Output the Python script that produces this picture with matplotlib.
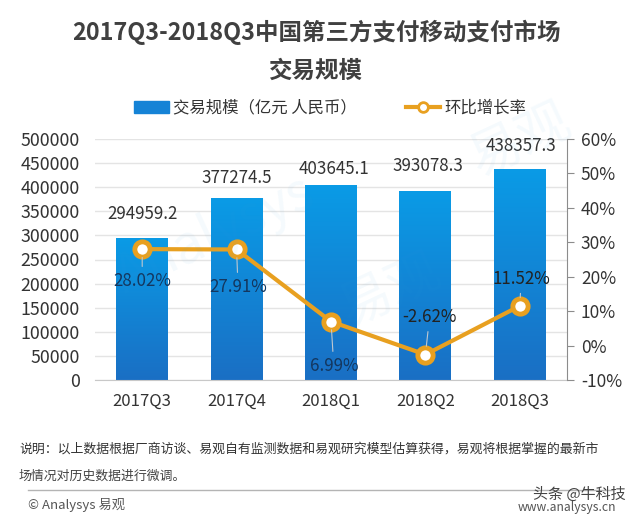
import numpy as np
import matplotlib
matplotlib.use("Agg")
import matplotlib.pyplot as plt
from matplotlib.colors import LinearSegmentedColormap
from matplotlib.lines import Line2D
from matplotlib.patches import Patch

plt.rcParams['font.family'] = ['Noto Sans CJK SC', 'DejaVu Sans']

quarters = ['2017Q3', '2017Q4', '2018Q1', '2018Q2', '2018Q3']
volume = [294959.2, 377274.5, 403645.1, 393078.3, 438357.3]
growth = [28.02, 27.91, 6.99, -2.62, 11.52]
volume_labels = ['294959.2', '377274.5', '403645.1', '393078.3', '438357.3']
growth_labels = ['28.02%', '27.91%', '6.99%', '-2.62%', '11.52%']
left_ticks = [0, 50000, 100000, 150000, 200000, 250000, 300000, 350000, 400000, 450000, 500000]
right_ticks = [-10, 0, 10, 20, 30, 40, 50, 60]

W, H = 640, 518
fig = plt.figure(figsize=(W / 100, H / 100), dpi=100, facecolor='white')
ax = fig.add_axes([95 / W, 1 - 380 / H, 472 / W, 241 / H])
ax.set_xlim(-0.5, 4.5)
ax.set_ylim(0, 500000)
ax.set_facecolor('none')

ax.set_yticks(left_ticks)
ax.grid(axis='y', color='#e4e4e4', lw=1)
ax.set_axisbelow(True)
for s in ['top', 'left', 'right']:
    ax.spines[s].set_visible(False)
ax.spines['bottom'].set_color('#c8c8c8')
ax.tick_params(axis='y', length=0, labelsize=12.8, labelcolor='#333333', pad=11)
ax.tick_params(axis='x', length=0, labelsize=12, labelcolor='#333333', pad=9)

x = np.arange(len(quarters))
bars = ax.bar(x, volume, width=0.55, color='#0f86d8', zorder=2)
ax.set_xticks(x, quarters)

cmap = LinearSegmentedColormap.from_list('b', ['#0a9be6', '#1a6fc4'])
grad = np.linspace(0, 1, 128).reshape(-1, 1)
for b in bars:
    im = ax.imshow(grad, cmap=cmap, aspect='auto', zorder=2.1,
                   extent=[b.get_x(), b.get_x() + b.get_width(), 0, b.get_height()])
    im.set_clip_path(b)
ax.set_xlim(-0.5, 4.5)
ax.set_ylim(0, 500000)

ax2 = ax.twinx()
ax2.set_ylim(-10, 60)
ax2.set_yticks(right_ticks, [f'{t}%' for t in right_ticks])
for s in ['top', 'left', 'bottom']:
    ax2.spines[s].set_visible(False)
ax2.spines['right'].set_color('#8c8c8c')
ax2.tick_params(axis='y', direction='out', length=5, color='#8c8c8c',
                labelsize=12.5, labelcolor='#333333', pad=5)
ax2.plot(x, growth, color='#e8a020', lw=3, marker='o', ms=11,
         mfc='white', mec='#e8a020', mew=3.5, zorder=5, clip_on=False)

vol_off = [(0, 17), (0, 14.5), (2, 12), (2, 18), (1, 16)]
for xi, v, lab, off in zip(x, volume, volume_labels, vol_off):
    ax.annotate(lab, (xi, v), xytext=off, textcoords='offset points',
                ha='center', va='center', fontsize=12.2, color='#333333', zorder=6)

gr_off = [(0, -23), (1, -27), (2, -32), (3, 27), (1, 19.5)]
gr_col = ['#14375f', '#14375f', '#14375f', '#222222', '#222222']
for xi, g, lab, off, c in zip(x, growth, growth_labels, gr_off, gr_col):
    ax2.annotate(lab, (xi, g), xytext=off, textcoords='offset points',
                 ha='center', va='center', fontsize=12.2, color=c, zorder=6,
                 arrowprops=dict(arrowstyle='-', color='#c0c8d0', lw=0.8,
                                 shrinkA=2, shrinkB=6))

# Title
fig.text(316 / W, 1 - 32 / H, '2017Q3-2018Q3中国第三方支付移动支付市场',
         ha='center', va='center', fontsize=16.9, fontweight='bold', color='#404040')
fig.text(316 / W, 1 - 71 / H, '交易规模', ha='center', va='center',
         fontsize=16.9, fontweight='bold', color='#404040')

# Legend
handles = [Patch(color='#1583d6'),
           Line2D([], [], color='#e8a020', lw=3, marker='o', ms=7, mfc='white',
                  mec='#e8a020', mew=2)]
fig.legend(handles, ['交易规模（亿元 人民币）', '环比增长率'], loc='center',
           bbox_to_anchor=(330 / W, 1 - 108 / H), ncol=2, frameon=False,
           fontsize=11.8, labelcolor='#333333', columnspacing=3.0,
           handlelength=2.1, handletextpad=0.25, handleheight=0.7)

# Watermark
for (px, py, s, rot) in [(215, 235, 'Analysys', 25), (390, 290, '易观', 25), (520, 140, '易观', 25)]:
    fig.text(px / W, 1 - py / H, s, ha='center', va='center', fontsize=38, rotation=rot,
             color='#3aa0e0', alpha=0.05, zorder=0)

# Footer
fig.text(19 / W, 1 - 449 / H, '说明：以上数据根据厂商访谈、易观自有监测数据和易观研究模型估算获得，易观将根据掌握的最新市',
         ha='left', va='center', fontsize=9.3, color='#333333')
fig.text(19 / W, 1 - 476 / H, '场情况对历史数据进行微调。', ha='left', va='center',
         fontsize=9.3, color='#444444')
fig.add_artist(Line2D([28 / W, 612 / W], [1 - 490 / H] * 2, color='#b4b4b4', lw=1))
fig.text(28 / W, 1 - 505 / H, '© Analysys 易观', ha='left', va='center', fontsize=9.5, color='#555555')
fig.text(616 / W, 1 - 508 / H, 'www.analysys.cn', ha='right', va='center', fontsize=8.8, color='#555555')
fig.text(626 / W, 1 - 494 / H, '头条 @牛科技', ha='right', va='center', fontsize=10.8, color='#444444')

fig.savefig('out.png', dpi=100)
